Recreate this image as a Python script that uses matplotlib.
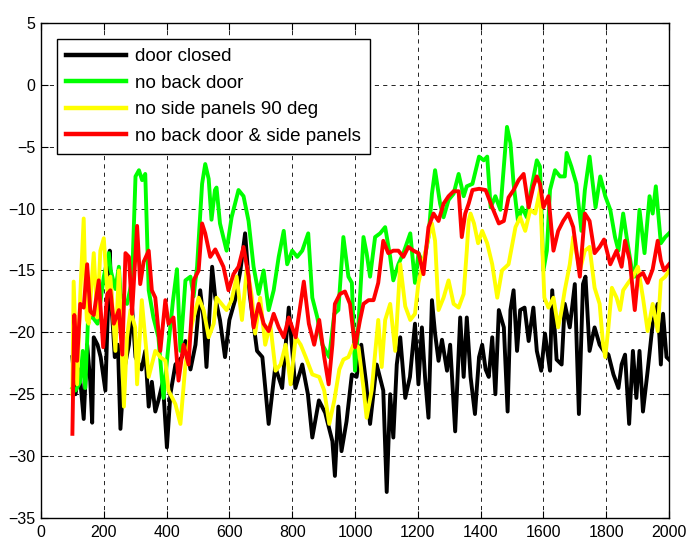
import numpy as np
import matplotlib
matplotlib.use("Agg")
from matplotlib import pyplot as plt

plt.rcParams["font.family"] = ["Liberation Sans", "DejaVu Sans"]

# door closed
x_closed = [100, 110, 122, 136, 147, 157, 163, 168, 180, 190, 205, 219, 225, 235, 245, 253, 265, 280,
            290, 301, 320, 332, 343, 353, 364, 374, 388, 401, 412, 428, 449, 460, 476, 492, 507, 518,
            527, 545, 555, 570, 586, 600, 618, 635, 650, 665, 688, 705, 725, 746, 768, 789, 810, 832,
            850, 864, 885, 905, 928, 936, 947, 957, 973, 990, 1005, 1020, 1035, 1048, 1069, 1090,
            1101, 1112, 1122, 1133, 1144, 1160, 1175, 1191, 1202, 1213, 1223, 1234, 1245, 1255, 1266,
            1277, 1293, 1303, 1319, 1335, 1346, 1356, 1368, 1382, 1395, 1405, 1416, 1426, 1437, 1447,
            1458, 1474, 1486, 1495, 1505, 1516, 1526, 1540, 1553, 1568, 1579, 1593, 1605, 1621, 1628,
            1642, 1658, 1668, 1684, 1700, 1713, 1726, 1734, 1747, 1763, 1779, 1792, 1807, 1823, 1839,
            1849, 1860, 1873, 1885, 1896, 1906, 1917, 1932, 1948, 1964, 1974, 1981, 1992, 2000]
y_closed = [-22, -25, -23, -27, -21, -24, -27.3, -20.4, -21, -22, -24.7, -13.4, -18, -22, -21, -27.8, -23, -21,
            -18, -22, -23, -21.5, -26, -24, -26.4, -25.5, -24, -29.3, -25, -22.6, -22, -20.7, -23, -21, -16.6, -19,
            -22.8, -14.7, -17.2, -19, -22, -19, -17.4, -15, -12, -17, -21.5, -22, -27.4, -22.8, -24.5, -18, -24.5, -22.6,
            -25, -28.5, -25.5, -26.5, -28.8, -31.6, -26, -29.6, -27.2, -23.4, -23.6, -21, -24, -27.4, -22.6, -24.7,
            -32.9, -25, -28.5, -22.6, -20.4, -25.3, -23.6, -19.3, -24.2, -19.6, -23.6, -26.9, -17.4, -20.1, -22.3,
            -20.6, -23.1, -21, -28, -18.8, -23.6, -18.8, -23.6, -26.6, -22, -21, -23, -23.6, -20.4, -25,
            -18.2, -19.6, -26.4, -18.2, -16.6, -21.5, -18.2, -18, -20.7, -18, -21.5, -23.1, -20.1, -23.1, -16.6,
            -22.2, -22.6, -17.7, -19.6, -16.1, -26.6, -16.1, -15.5, -21.5, -19.6, -21, -21.5, -21.8, -23.4, -24.5,
            -22.6, -21.8, -27.4, -21.5, -25.3, -21.5, -26.4, -23.1, -19.3, -17.7, -22.6, -18.5, -22, -22.2]

# no back door
x_noback = [100, 110, 125, 133, 141, 150, 165, 180, 200, 216, 221, 237, 248, 253, 274, 290, 301, 312, 322,
            332, 343, 358, 374, 390, 406, 420, 433, 444, 460, 476, 486, 497, 513, 523, 534, 543, 554, 559,
            570, 591, 607, 629, 645, 661, 677, 693, 709, 725, 741, 757, 773,
            784, 800, 816, 832, 851, 864, 880, 896, 918, 934, 947, 963, 979, 990, 1000, 1011, 1027, 1037,
            1048, 1064, 1080, 1096, 1112, 1122, 1138, 1154, 1176, 1191, 1202, 1218, 1234, 1245, 1255, 1271,
            1282, 1298, 1314, 1330, 1346, 1356, 1374, 1395, 1410, 1421, 1432, 1447, 1463, 1484, 1495, 1505,
            1519, 1532, 1547, 1563, 1579, 1589, 1600, 1611, 1621, 1637, 1653, 1668, 1674, 1689, 1705, 1721,
            1732, 1747, 1766, 1781, 1797, 1813, 1828, 1839, 1854, 1865, 1880, 1891, 1906, 1922, 1938, 1948,
            1958, 1974, 1988, 2000]
y_noback = [-24.5, -24.7, -24, -21.5, -24.5, -18.8, -18.8, -19.3, -15.5, -13.6, -14.9, -16.5, -14.7, -16.9, -17.7, -15.8, -7.4, -6.9, -7.7,
            -7.2, -16.6, -18.8, -20.4, -25.3, -21, -17.5, -14.9, -21.5, -15.8, -15.5, -17.1, -14.7, -8, -6.4, -7.6, -10.9, -8.5, -8.3,
            -11.2, -13.4, -10.7, -8.5, -9, -11, -14.7, -16.9, -15, -18.2, -16.6, -13.9, -11.8,
            -14.5, -13.4, -13.9, -13.4, -12, -17.2, -18.8, -21, -22, -18.5, -18.2, -12.3, -15.5, -16, -23.1, -19.3, -12.3, -13.6,
            -15.5, -12.3, -12, -11.5, -13.9, -15.8, -14.5, -13.6, -12, -16, -13.6, -14.5, -12.3, -8.8, -6.9, -9.6,
            -10.7, -9.3, -8.8, -7.2, -9, -8.2, -8, -5.8, -6.1, -5.8, -9.9, -9, -10.1, -3.4, -4.7, -8,
            -11, -9.9, -10.7, -8.2, -6.1, -6.6, -15, -13.4, -8.5, -6.9, -7.4, -7.4, -5.5, -6.6, -8, -11.8,
            -8.5, -5.8, -9.9, -7.4, -9, -10.1, -12.3, -13.4, -10.4, -12.3, -14.7, -15.5, -10.1, -13.6, -9, -10.4,
            -8.2, -12.8, -12.3, -12]

# no side panels 90 deg
x_noside = [100, 104, 115, 125, 136, 141, 146, 152, 168, 179, 189, 200, 211, 221, 237, 248, 264, 274, 285,
            300, 306, 321, 343, 364, 380, 396, 406, 428, 444, 460, 481, 502, 518, 534, 550,
            559, 575, 591, 607, 623, 640, 656, 672, 682, 698, 714, 730, 747, 763, 779, 795, 811,
            827, 843, 864, 886, 902, 918, 934, 950, 963, 979, 995, 1011, 1027, 1037, 1053, 1074, 1085, 1096,
            1112, 1128, 1144, 1160, 1176, 1191, 1202, 1218, 1234, 1245, 1255, 1266, 1282, 1298, 1314, 1330,
            1346, 1356, 1362, 1368, 1379, 1392, 1405, 1421, 1437, 1453, 1468, 1489, 1511, 1526, 1542, 1558,
            1574, 1589, 1603, 1616, 1632, 1647, 1658, 1668, 1684, 1695, 1716, 1732, 1747, 1763, 1779, 1790,
            1797, 1807, 1818, 1833, 1844, 1854, 1870, 1885, 1901, 1917, 1932, 1948, 1964, 1974, 1988, 2000]
y_noside = [-25, -15.9, -24.2, -17, -10.8, -16, -19, -19.3, -13.6, -18.8, -13.4, -12.4, -16.6, -15.5, -21.5, -15, -26, -20.4, -18.2,
            -19.6, -24.2, -17.4, -23.6, -21.5, -22, -22.3, -24.7, -25.8, -27.4, -22.6, -19.3, -17.2, -18.2, -20.4, -19.3,
            -17.2, -17.7, -18.2, -17.4, -15.5, -19, -14.7, -17.2, -20.1, -17.2, -21, -19.3, -23.1, -22.6, -21, -24.2, -20.4,
            -21, -22, -23.4, -23.6, -24.7, -27.4, -25.5, -23, -22.2, -22, -21, -21.2, -24.5, -26.9, -24.7, -19, -22.8, -19,
            -17.7, -21.5, -14.5, -17.9, -19, -18.5, -16, -14.2, -12.3, -11.2, -12.6, -18.2, -17.2, -15.8, -17.7, -18,
            -16.9, -13.4, -11, -10.4, -11.2, -12.8, -11.8, -12.8, -14.5, -17.2, -15, -14.5, -11.5, -10.7, -11.8, -10.1,
            -10.4, -8.5, -17.2, -18, -17.2, -19.6, -18.2, -16.6, -14.5, -12.3, -15, -13.4, -13.1, -16.4, -17.7, -21,
            -22, -19.6, -16.4, -17.2, -18.2, -16.6, -16, -15.5, -14.7, -17.2, -19.9, -17.7, -19.9, -15.8, -15.5, -15]

# no back door & side panels
x_both = [100, 106, 115, 125, 136, 147, 157, 168, 184, 198, 211, 221, 232, 248, 259, 269, 280, 290, 306,
          316, 327, 343, 353, 364, 380, 396, 406, 422, 438, 454, 470, 486, 502, 513, 523, 539, 555, 581,
          597, 613, 629, 645, 661, 677, 693, 709, 725, 741, 757, 773, 789, 811, 837, 853, 870, 886, 902,
          916, 928, 936, 952, 968, 984, 1000, 1016, 1027, 1043, 1059, 1074, 1090, 1106, 1122, 1138, 1154,
          1170, 1186, 1202, 1218, 1234, 1250, 1266, 1282, 1298, 1314, 1330, 1340, 1351, 1362, 1374, 1395,
          1416, 1437, 1458, 1474, 1489, 1505, 1521, 1537, 1553, 1568, 1579, 1589, 1600, 1616, 1632, 1647,
          1663, 1679, 1695, 1716, 1732, 1747, 1763, 1779, 1793, 1813, 1833, 1849, 1860, 1875, 1891, 1901,
          1917, 1932, 1948, 1964, 1974, 1984, 2000]
y_both = [-28.2, -18.6, -22.3, -17.7, -18, -14.5, -18.3, -18.6, -15.8, -21.2, -16.9, -16.6, -19.3, -18.2, -21.8, -13.6, -13.9, -18.5, -11.4,
          -16.1, -14.3, -13.4, -16.6, -17.2, -21.5, -17.4, -19.3, -18.8, -23.9, -21, -22.6, -15.8, -15, -11.2, -12, -13.9, -13.3, -14.7,
          -16.6, -15.3, -14.7, -13.1, -15.5, -19.6, -17.7, -19.3, -19.9, -18.5, -19.6, -20.4, -18.8, -20.4, -15.9, -19.3, -21, -19, -22,
          -24.2, -21, -17.7, -16.9, -16.7, -17.7, -21.2, -19, -17.7, -17.4, -17.4, -16, -12.6, -13.6, -13.4, -13.4, -13.9,
          -13.1, -13.4, -13.6, -15.3, -11.5, -10.4, -11, -9.6, -9, -8.6, -8.6, -12.3, -10.4, -9.6, -8.5, -8.4,
          -8.5, -9.9, -11.2, -11, -9.1, -8.5, -7.7, -7.2, -9.9, -8.2, -7.4, -8, -9.9, -9, -13.4, -11.8,
          -11, -10.4, -11.5, -15.5, -10.4, -11, -13.6, -13.1, -12.5, -14.5, -13.4, -14.7, -12.6, -14.2, -18.2, -15.5,
          -15.2, -16, -14.9, -12.6, -14.2, -15, -14.5]

labels = ["door closed", "no back door", "no side panels 90 deg", "no back door & side panels"]

fig = plt.figure(figsize=(6.89, 5.39), dpi=100)
ax = fig.add_axes([0.0595, 0.039, 0.9115, 0.9184])

ax.plot(x_closed, y_closed, color="k", lw=2.8, label=labels[0])
ax.plot(x_noback, y_noback, color="#00ff00", lw=2.8, label=labels[1])
ax.plot(x_noside, y_noside, color="#ffff00", lw=2.8, label=labels[2])
ax.plot(x_both, y_both, color="#ff0000", lw=2.8, label=labels[3])

ax.set_xlim(0, 2000)
ax.set_ylim(-35, 5)
ax.set_xticks(np.arange(0, 2001, 200))
ax.set_yticks(np.arange(-35, 6, 5))

ax.grid(True, color="k", lw=0.6, linestyle=(0, (5, 5)))
ax.tick_params(direction="in", length=5, top=True, right=True, labelsize=11.5)
ax.tick_params(axis="x", pad=5)
ax.tick_params(axis="y", pad=4)
for s in ax.spines.values():
    s.set_linewidth(1.0)

leg = ax.legend(loc="upper left", bbox_to_anchor=(0.0255, 0.968), borderaxespad=0,
                fontsize=13.5, handlelength=3.2, labelspacing=0.5, handletextpad=0.45,
                fancybox=False, framealpha=1, edgecolor="k", borderpad=0.5)
leg.get_frame().set_linewidth(1.0)
for h in leg.get_lines():
    h.set_linewidth(3.2)

fig.savefig("out.png", dpi=100)
